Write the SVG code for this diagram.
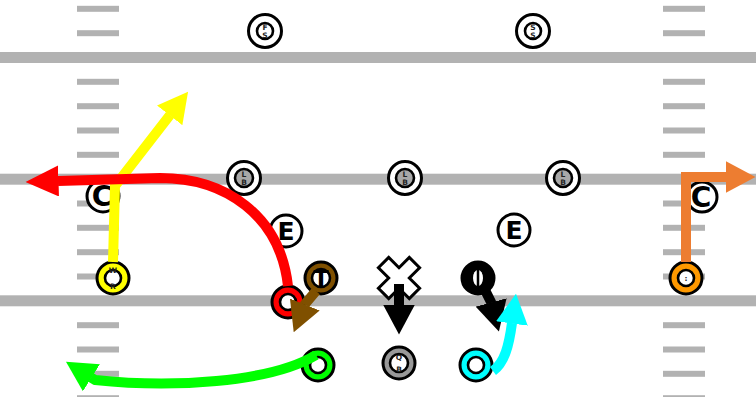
<svg xmlns="http://www.w3.org/2000/svg" width="756" height="397" viewBox="0 0 756 397">
<style>
.yard{fill:#b2b2b2}
.hash{fill:#b2b2b2}
.ring{stroke:#000;stroke-width:3}
.inner{fill:#fff;stroke:#000;stroke-width:2.6}
.def{fill:#fff;stroke:#000;stroke-width:3}
.lbin{fill:#a8a8a8;stroke:#000;stroke-width:2.6}
.sm{font-family:"DejaVu Sans",sans-serif;font-size:7.5px;font-weight:bold;fill:#222;text-anchor:middle}
.big{font-family:"DejaVu Sans",sans-serif;font-weight:bold;fill:#000;text-anchor:middle}
.route{fill:none;stroke-width:10;stroke-linecap:butt;stroke-linejoin:miter}
</style>
<defs>
<marker id="ah-red" markerUnits="userSpaceOnUse" viewBox="0 0 33 31" markerWidth="33" markerHeight="31" refX="0.5" refY="15.5" orient="auto"><path d="M0,0 L33,15.5 L0,31 z" fill="#ff0000"/></marker>
<marker id="ah-yellow" markerUnits="userSpaceOnUse" viewBox="0 0 30 32" markerWidth="30" markerHeight="32" refX="0.5" refY="16" orient="auto"><path d="M0,0 L30,16 L0,32 z" fill="#ffff00"/></marker>
<marker id="ah-brown" markerUnits="userSpaceOnUse" viewBox="0 0 30 32" markerWidth="30" markerHeight="32" refX="0.5" refY="16" orient="auto"><path d="M0,0 L30,16 L0,32 z" fill="#7f5000"/></marker>
<marker id="ah-black" markerUnits="userSpaceOnUse" viewBox="0 0 30 32" markerWidth="30" markerHeight="32" refX="0.5" refY="16" orient="auto"><path d="M0,0 L30,16 L0,32 z" fill="#000"/></marker>
<marker id="ah-cyan" markerUnits="userSpaceOnUse" viewBox="0 0 30 32" markerWidth="30" markerHeight="32" refX="0.5" refY="16" orient="auto"><path d="M0,0 L30,16 L0,32 z" fill="#00ffff"/></marker>
<marker id="ah-green" markerUnits="userSpaceOnUse" viewBox="0 0 30 32" markerWidth="30" markerHeight="32" refX="0.5" refY="16" orient="auto"><path d="M0,0 L30,16 L0,32 z" fill="#00ff00"/></marker>
<marker id="ah-orange" markerUnits="userSpaceOnUse" viewBox="0 0 30 32" markerWidth="30" markerHeight="32" refX="0.5" refY="16" orient="auto"><path d="M0,0 L30,16 L0,32 z" fill="#ed7d31"/></marker>
</defs>
<rect width="756" height="397" fill="#fff"/>
<g id="field">
<rect class="yard" x="0" y="52" width="756" height="11"/>
<rect class="yard" x="0" y="173.7" width="756" height="11"/>
<rect class="yard" x="0" y="295.3" width="756" height="11"/>
<g id="hash-left">
<rect class="hash" x="77" y="5.8" width="42" height="6"/>
<rect class="hash" x="77" y="30.2" width="42" height="6"/>
<rect class="hash" x="77" y="78.8" width="42" height="6"/>
<rect class="hash" x="77" y="103.2" width="42" height="6"/>
<rect class="hash" x="77" y="127.5" width="42" height="6"/>
<rect class="hash" x="77" y="151.8" width="42" height="6"/>
<rect class="hash" x="77" y="200.5" width="42" height="6"/>
<rect class="hash" x="77" y="224.8" width="42" height="6"/>
<rect class="hash" x="77" y="249.2" width="42" height="6"/>
<rect class="hash" x="77" y="273.5" width="42" height="6"/>
<rect class="hash" x="77" y="322.2" width="42" height="6"/>
<rect class="hash" x="77" y="346.5" width="42" height="6"/>
<rect class="hash" x="77" y="370.8" width="42" height="6"/>
<rect class="hash" x="77" y="395.2" width="42" height="6"/>
</g>
<g id="hash-right">
<rect class="hash" x="663" y="5.8" width="42" height="6"/>
<rect class="hash" x="663" y="30.2" width="42" height="6"/>
<rect class="hash" x="663" y="78.8" width="42" height="6"/>
<rect class="hash" x="663" y="103.2" width="42" height="6"/>
<rect class="hash" x="663" y="127.5" width="42" height="6"/>
<rect class="hash" x="663" y="151.8" width="42" height="6"/>
<rect class="hash" x="663" y="200.5" width="42" height="6"/>
<rect class="hash" x="663" y="224.8" width="42" height="6"/>
<rect class="hash" x="663" y="249.2" width="42" height="6"/>
<rect class="hash" x="663" y="273.5" width="42" height="6"/>
<rect class="hash" x="663" y="322.2" width="42" height="6"/>
<rect class="hash" x="663" y="346.5" width="42" height="6"/>
<rect class="hash" x="663" y="370.8" width="42" height="6"/>
<rect class="hash" x="663" y="395.2" width="42" height="6"/>
</g>
</g>

<g id="FS"><circle class="def" cx="265" cy="31" r="16.5"/><circle class="inner" cx="265" cy="31" r="8"/><text class="sm" x="265" y="30">F</text><text class="sm" x="265" y="37.5">S</text></g>
<g id="SS"><circle class="def" cx="533" cy="31" r="16.5"/><circle class="inner" cx="533" cy="31" r="8"/><text class="sm" x="533" y="30">S</text><text class="sm" x="533" y="37.5">S</text></g>
<g id="LB1"><circle class="def" cx="244" cy="178" r="16.5"/><circle class="lbin" cx="244" cy="178" r="9"/><text class="sm" x="244" y="177">L</text><text class="sm" x="244" y="184.5">B</text></g>
<g id="LB2"><circle class="def" cx="405" cy="178" r="16.5"/><circle class="lbin" cx="405" cy="178" r="9"/><text class="sm" x="405" y="177">L</text><text class="sm" x="405" y="184.5">B</text></g>
<g id="LB3"><circle class="def" cx="563" cy="178" r="16.5"/><circle class="lbin" cx="563" cy="178" r="9"/><text class="sm" x="563" y="177">L</text><text class="sm" x="563" y="184.5">B</text></g>
<g id="CB1"><circle class="def" cx="103" cy="196" r="16"/><text class="big" x="102" y="206" font-size="28">C</text></g>
<g id="CB2"><circle class="def" cx="702" cy="197" r="15"/><text class="big" x="701" y="207" font-size="28">C</text></g>
<g id="DE1"><circle class="def" cx="286" cy="231" r="16"/><text class="big" x="286" y="240" font-size="25">E</text></g>
<g id="DE2"><circle class="def" cx="514" cy="230" r="16"/><text class="big" x="514" y="239" font-size="25">E</text></g>

<g id="WR-yellow"><circle class="ring" cx="113" cy="278" r="16" fill="#ffff00"/><circle class="inner" cx="113" cy="278" r="8"/><text class="sm" x="113" y="273" font-size="8">W</text><text class="sm" x="113" y="289" font-size="8">R</text></g>
<g id="WR-red"><circle class="ring" cx="288" cy="302" r="16" fill="#ff0000"/><circle class="inner" cx="288" cy="302" r="8"/></g>
<g id="TE-brown"><circle class="ring" cx="321" cy="278" r="16" fill="#7f5000"/><circle class="inner" cx="321" cy="278" r="9"/><text class="big" x="321" y="286" font-size="22">T</text></g>
<g id="C-ball"><path d="M399 267.7 L409.3 257.4 L419.6 267.7 L409.3 278 L419.6 288.3 L409.3 298.6 L399 288.3 L388.7 298.6 L378.4 288.3 L388.7 278 L378.4 267.7 L388.7 257.4 Z" fill="#fff" stroke="#000" stroke-width="3" stroke-linejoin="miter"/></g>
<g id="G-black"><circle class="ring" cx="478" cy="278" r="16" fill="#000"/><ellipse cx="478" cy="278" rx="5" ry="8" fill="#fff"/><line x1="478" y1="270" x2="478" y2="286" stroke="#000" stroke-width="2.5"/></g>
<g id="RB-green"><circle class="ring" cx="318" cy="365" r="16" fill="#00ff00"/><circle class="inner" cx="318" cy="365" r="8"/></g>
<g id="QB"><circle class="ring" cx="399" cy="363" r="16" fill="#999"/><circle class="inner" cx="399" cy="363" r="9"/><text class="sm" x="399" y="360">Q</text><text class="sm" x="399" y="372">B</text></g>
<g id="RB-cyan"><circle class="ring" cx="476" cy="365" r="16" fill="#00ffff"/><circle class="inner" cx="476" cy="365" r="8"/></g>
<g id="WR-orange"><circle class="ring" cx="686" cy="278" r="16" fill="#ff9900"/><circle class="inner" cx="686" cy="278" r="8"/><text class="sm" x="686" y="281">:</text></g>

<g id="connectors">
<path class="route" d="M113 262 L115 186 L170 115" stroke="#ffff00" marker-end="url(#ah-yellow)"/>
<path class="route" d="M288 286 C280 215 225 178 160 178 L58 181" stroke="#ff0000" stroke-width="11" marker-end="url(#ah-red)"/>
<path class="route" d="M316 291 L305 304 l-0.37 0.93" stroke="#7f5000" marker-end="url(#ah-brown)"/>
<path class="route" d="M399 284 L399 305" stroke="#000" stroke-width="11" marker-end="url(#ah-black)"/>
<path class="route" d="M485 290 L491 302 l0.26 0.97" stroke="#000" stroke-width="11" marker-end="url(#ah-black)"/>
<path class="route" d="M493 371 C505 362 509 345 512 323" stroke="#00ffff" marker-end="url(#ah-cyan)"/>
<path class="route" d="M316 355 C270 383 170 388 95 380 L91 377.5" stroke="#00ff00" marker-end="url(#ah-green)"/>
<path class="route" d="M686 262 L686 177 L726 177" stroke="#ed7d31" marker-end="url(#ah-orange)"/>
</g>
</svg>
